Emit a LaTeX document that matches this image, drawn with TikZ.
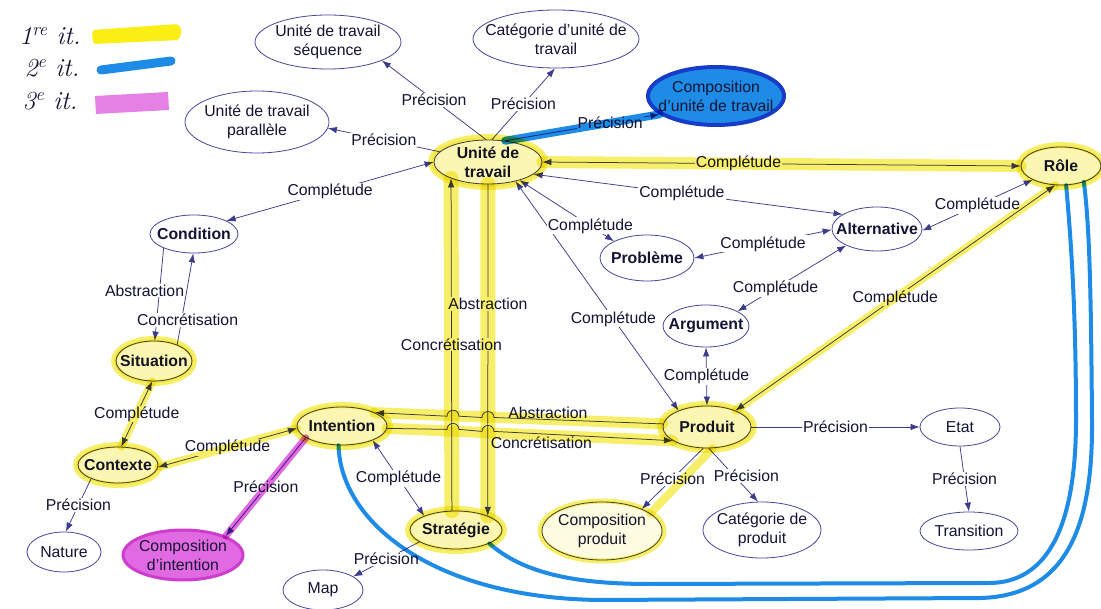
\documentclass[tikz,border=0pt]{standalone}
\usepackage{fontspec}
\newfontfamily\arialf{Liberation Sans}
\usetikzlibrary{shapes.geometric,arrows.meta}
\definecolor{tcol}{RGB}{20,20,52}
\definecolor{lcol}{RGB}{60,60,140}
\definecolor{ecol}{RGB}{70,70,155}
\definecolor{hy}{RGB}{247,239,105}
\definecolor{hyl}{RGB}{251,247,178}
\definecolor{hyleg}{RGB}{250,238,20}
\definecolor{hb}{RGB}{30,140,230}
\definecolor{hbd}{RGB}{25,60,200}
\definecolor{hm}{RGB}{225,105,225}
\definecolor{hmd}{RGB}{205,60,205}
\newcommand\lblf{\arialf\fontsize{15.8}{18.8}\selectfont}
\tikzset{
  ell/.style={ellipse, draw=ecol, line width=0.8pt, inner sep=0pt},
  nt/.style={text=tcol, font=\lblf, align=center, inner sep=0pt},
  nb/.style={text=tcol, font=\lblf\bfseries, align=center, inner sep=0pt},
  lbl/.style={text=tcol, font=\lblf, fill=white, inner sep=1pt},
  con/.style={draw=lcol, line width=0.75pt},
  tip/.style={-{Latex[length=9pt,width=6.5pt]}},
  bi/.style={{Latex[length=9pt,width=6.5pt]}-{Latex[length=9pt,width=6.5pt]}},
  yl/.style={draw=hy, line width=12pt, line cap=round},
  ynode/.style={draw=hy, line width=6pt, fill=hyl},
  bcurve/.style={draw=hb, line width=4pt, line cap=round},
  legf/.style={text=tcol, font=\itshape\fontsize{26}{26}\selectfont, inner sep=0pt}
}
\begin{document}
\begin{tikzpicture}[x=1pt,y=-1pt]
\useasboundingbox (0,0) rectangle (1101,609);
\fill[white] (0,0) rectangle (1101,609);

% ---------- nodes ----------
\node[ell, minimum width=146, minimum height=54, label={[nt]center:{Unité de travail\\séquence}}] (seq) at (328,42) {};
\node[ell, minimum width=166, minimum height=58, label={[nt]center:{Catégorie d’unité de\\travail}}] (cat) at (556,39) {};
\node[ell, minimum width=144, minimum height=62, label={[nt]center:{Unité de travail\\parallèle}}] (par) at (257,122) {};
\node[ell, minimum width=108, minimum height=44, label={[nb]center:{Unité de\\travail}}] (UT) at (488,162) {};
\node[ell, draw=hbd, fill=hb, line width=4pt, minimum width=136, minimum height=58, label={[nt]center:{Composition\\d’unité de travail}}] (cUT) at (716,96) {};
\node[ell, minimum width=80, minimum height=38, label={[nb]center:{Rôle}}] (role) at (1061,166) {};
\node[ell, minimum width=90, minimum height=44, label={[nb]center:{Alternative}}] (alt) at (877,229) {};
\node[ell, minimum width=94, minimum height=46, label={[nb]center:{Problème}}] (prob) at (647,258) {};
\node[ell, minimum width=86, minimum height=42, label={[nb]center:{Argument}}] (arg) at (706,326) {};
\node[ell, minimum width=88, minimum height=42, label={[nb]center:{Produit}}] (prod) at (707,427) {};
\node[ell, minimum width=80, minimum height=38, label={[nt]center:{Etat}}] (etat) at (960,427) {};
\node[ell, minimum width=98, minimum height=38, label={[nt]center:{Transition}}] (trans) at (969,531) {};
\node[ell, minimum width=118, minimum height=56, label={[nt]center:{Catégorie de\\produit}}] (catp) at (762,530) {};
\node[ell, minimum width=120, minimum height=58, label={[nt]center:{Composition\\produit}}] (compp) at (602,531) {};
\node[ell, minimum width=92, minimum height=38, label={[nb]center:{Stratégie}}] (strat) at (456,530) {};
\node[ell, minimum width=80, minimum height=40, label={[nt]center:{Map}}] (map) at (323,590) {};
\node[ell, minimum width=90, minimum height=38, label={[nb]center:{Intention}}] (int) at (342,426) {};
\node[ell, minimum width=80, minimum height=36, label={[nb]center:{Contexte}}] (ctx) at (118,465) {};
\node[ell, minimum width=74, minimum height=40, label={[nt]center:{Nature}}] (nat) at (64,552) {};
\node[ell, draw=hmd, fill=hm, line width=3pt, minimum width=120, minimum height=50, label={[nt]center:{Composition\\d’intention}}] (cint) at (183,555) {};
\node[ell, minimum width=76, minimum height=40, label={[nb]center:{Situation}}] (sit) at (154,361) {};
\node[ell, minimum width=88, minimum height=38, label={[nb]center:{Condition}}] (cond) at (194,234) {};

% ---------- connectors ----------
\draw[con,tip] (UT.95) -- node[lbl]{Précision} (seq.-19);
\draw[con,tip] (UT.80) -- node[lbl]{Précision} (cat.-92);
\draw[con,tip] (UT.168) -- node[lbl]{Précision} (par.-5);
\draw[con,tip] (UT.51) -- node[lbl,pos=0.68]{Précision} (cUT.198);
\draw[con,bi] (UT.east) -- node[lbl,pos=0.41]{Complétude} (role.west);
\draw[con,bi] (UT.-15) -- node[lbl,pos=0.48]{Complétude} (alt.157);
\draw[con,bi] (UT.-35) -- node[lbl,pos=0.6]{Complétude} (prod.150);
\draw[con,bi] (UT.-30) -- node[lbl,pos=0.75]{Complétude} (prob.153);
\draw[con,bi] (alt.-2) -- node[lbl]{Complétude} (role.206);
\draw[con,bi] (alt.181) -- node[lbl]{Complétude} (prob.0);
\draw[con,bi] (alt.208) -- node[lbl,pos=0.65]{Complétude} (arg.25);
\draw[con,bi] (arg.south) -- node[lbl]{Complétude} (prod.north);
\draw[con,bi] (role.253) -- node[lbl]{Complétude} (prod.30);
\draw[con,tip] (prod.east) -- node[lbl]{Précision} (etat.west);
\draw[con,tip] (etat.south) -- node[lbl]{Précision} (trans.north);
\draw[con,tip] (prod.-100) -- node[lbl]{Précision} (compp.29);
\draw[con,tip] (prod.-85) -- node[lbl,pos=0.52,xshift=12pt]{Précision} (catp.98);

% verticals UT <-> Strategie
\draw[con,tip] (strat.102) -- (UT.-156);
\draw[con,tip] (UT.-90) -- (strat.24);

% Intention <-> Produit with line jumps
\draw[con,tip] (prod.176) -- (494,417.5) arc[start angle=0,end angle=180,radius=6pt]
   -- (459,416.2) arc[start angle=0,end angle=180,radius=6pt] -- (int.22);
\draw[con,tip] (int.-3) -- (447,429.4) arc[start angle=180,end angle=0,radius=6pt]
   -- (482,431.4) arc[start angle=180,end angle=0,radius=6pt] -- (prod.202);
\path (prod.176) -- node[text=tcol,font=\lblf,pos=0.4,yshift=7pt,inner sep=0pt]{Abstraction} (int.22);
\path (int.-3) -- node[text=tcol,font=\lblf,pos=0.54,yshift=-8pt,inner sep=0pt]{Concrétisation} (prod.202);

\path (strat.102) -- node[lbl]{Concrétisation} (UT.-156);
\path (UT.-90) -- node[lbl,pos=0.36]{Abstraction} (strat.24);

\draw[con,bi] (int.-25) -- node[lbl]{Complétude} (strat.156);
\draw[con,tip] (strat.198) -- node[lbl]{Précision} (map.24);
\draw[con,bi] (int.183) -- node[lbl]{Complétude} (ctx.-3);
\draw[con,bi] (ctx.80) -- node[lbl]{Complétude} (sit.-95);
\draw[con,tip] (cond.205) -- (sit.88);
\draw[con,tip] (sit.35) -- (cond.-92);
\path (cond.205) -- node[lbl,pos=0.46,xshift=-15pt]{Abstraction} (sit.88);
\path (sit.35) -- node[lbl,pos=0.27,xshift=6pt]{Concrétisation} (cond.-92);
\draw[con,bi] (UT.180) -- node[lbl]{Complétude} (cond.22);
\draw[con,tip] (int.198) -- node[lbl]{Précision} (cint.24);
\draw[con,tip] (ctx.207) -- node[lbl]{Précision} (nat.85);

% ---------- highlighter strokes ----------
\begin{scope}[blend mode=multiply]
  % yellow (1st iteration)
  \draw[yl] (UT.east) -- (role.west);
  \draw[yl,line width=15pt] (UT.-156) -- (strat.102);
  \draw[yl,line width=15pt] (UT.-90) -- (strat.24);
  \draw[yl,line width=11pt] (prod.176) -- (int.22);
  \draw[yl,line width=11pt] (int.-3) -- (prod.202);
  \draw[yl,line width=8pt] (int.183) -- (ctx.-3);
  \draw[yl,line width=8pt] (ctx.80) -- (sit.-95);
  \draw[yl,line width=8pt] (role.253) -- (prod.30);
  \draw[yl,line width=8pt] (prod.-75) -- (compp.20);
  \draw[ynode] (UT.center) ellipse[x radius=57, y radius=25];
  \draw[ynode] (role.center) ellipse[x radius=42, y radius=21];
  \draw[ynode] (prod.center) ellipse[x radius=47, y radius=23];
  \draw[ynode] (int.center) ellipse[x radius=48, y radius=21];
  \draw[ynode] (strat.center) ellipse[x radius=48, y radius=21];
  \draw[ynode] (ctx.center) ellipse[x radius=42, y radius=20];
  \draw[ynode] (sit.center) ellipse[x radius=40, y radius=22];
  \draw[ynode,fill=hyl!40,line width=5pt] (compp.center) ellipse[x radius=62, y radius=30];
  % blue (2nd iteration)
  \draw[draw=hb,line width=8pt,line cap=round] (UT.51) -- (cUT.198);
  \draw[bcurve] (int.-100) .. controls (340,520) and (430,598) .. (600,600)
     -- (980,598) .. controls (1070,596) and (1093,520) .. (1092,420)
     .. controls (1091,300) and (1090,230) .. (role.-35);
  \draw[bcurve] (strat.-22) .. controls (525,575) and (580,584) .. (650,584)
     -- (990,583) .. controls (1060,582) and (1076,500) .. (1076,420)
     .. controls (1076,300) and (1070,230) .. (role.-75);
  % magenta (3rd iteration)
  \draw[draw=hm,line width=7pt,line cap=round] (int.198) -- (cint.24);
\end{scope}

% ---------- legend ----------
\node[legf] (l1) at (50,36) {1\textsuperscript{re} it.};
\node[legf] (l2) at (52,68) {2\textsuperscript{e} it.};
\node[legf] (l3) at (50,101) {3\textsuperscript{e} it.};
\fill[hyleg,rounded corners=3pt] (92,30) -- (178,24) -- (182,30) -- (179,40) -- (93,44) -- cycle;
\draw[hb,line width=9pt,line cap=round] (101,70) -- (171,61);
\fill[hm!85] (95,96) -- (168,92) -- (169,110) -- (96,114) -- cycle;
\end{tikzpicture}
\end{document}
